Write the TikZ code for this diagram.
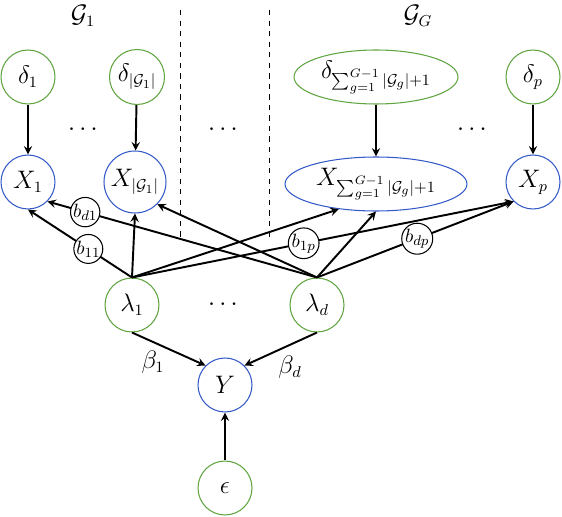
\documentclass[tikz,border=0pt]{standalone}
\usepackage{amsmath}
\usepackage{amssymb}
\usepackage{xcolor}
\usepackage{tikz}
\usetikzlibrary{arrows, positioning, shapes}

\definecolor{latgreen}{RGB}{96,164,64}
\definecolor{obsblue}{RGB}{52,90,200}

\begin{document}
\begin{tikzpicture}[x=0.02cm, y=-0.02cm, font=\fontsize{13.5}{16}\selectfont, >=stealth,
        latent/.style={draw=latgreen, semithick, circle, minimum size=1.08cm, inner sep=1pt},
        obs/.style={draw=obsblue, semithick, circle, minimum size=1.08cm, inner sep=1pt},
        coef/.style={draw, semithick, circle, minimum size=0.56cm, inner sep=0pt, font=\fontsize{11}{13}\selectfont, fill=white},
        edge/.style={->, line width=1.1pt}]
        \useasboundingbox (0,0) rectangle (562,517);

        % Groups
        \draw[dashed] (180,10) -- (180,240);
        \draw[dashed] (269,10) -- (269,240);
        \node (g1) [inner sep=0pt] at (83,16) {$\mathcal{G}_1$};
        \node (gG) [inner sep=0pt] at (418,16) {$\mathcal{G}_G$};

        % Components
        \node (d1) [latent] at (28,77) {$\delta_1$};
        \node (dg1) [latent, minimum size=1.1cm, inner sep=0pt] at (137,77) {$\delta_{|\mathcal{G}_1|}$};
        \node (dsum) [latent, ellipse, minimum width=3.28cm, minimum height=1.08cm, inner sep=0pt] at (376,77) {$\delta_{\sum_{g=1}^{G-1}|\mathcal{G}_g|+1}$};
        \node (dp) [latent] at (533,77) {$\delta_p$};

        \node (x1) [obs] at (28,182) {$X_1$};
        \node (xg1) [obs, minimum size=1.24cm, inner sep=0pt] at (135,182) {$X_{|\mathcal{G}_1|}$};
        \node (xsum) [obs, ellipse, minimum width=3.64cm, minimum height=1.08cm, inner sep=0pt] at (376,184) {$X_{\sum_{g=1}^{G-1}|\mathcal{G}_g|+1}$};
        \node (xp) [obs] at (533,182) {$X_p$};

        \node (l1) [latent] at (132,305) {$\lambda_1$};
        \node (ld) [latent] at (317,305) {$\lambda_d$};
        \node (y) [obs] at (225,385) {$Y$};
        \node (eps) [latent] at (225,488) {$\epsilon$};

        \node (dots1) at (85,130) {$\cdots$};
        \node (dots2) at (225,130) {$\cdots$};
        \node (dots3) at (474,130) {$\cdots$};
        \node (dots4) at (225,305) {$\cdots$};

        % Arrows
        \draw[edge] (d1) -- (x1);
        \draw[edge] (dg1) -- (xg1);
        \draw[edge] (dsum) -- (xsum);
        \draw[edge] (dp) -- (xp);

        \draw[edge] (l1.north) -- node[coef, pos=0.42] (b11) {$b_{11}$} (x1.south);
        \draw[edge] (l1.north) -- (xg1.south);
        \draw[edge] (l1.north) -- (xsum.214);
        \draw[edge] (l1.north) -- node[coef, pos=0.45] (b1p) {$b_{1p}$} (xp.south west);

        \draw[edge] (ld.north) -- node[coef, pos=0.86] (bd1) {$b_{d1}$} (x1.south east);
        \draw[edge] (ld.north) -- (xg1.south east);
        \draw[edge] (ld.north) -- (xsum.south);
        \draw[edge] (ld.north) -- node[coef, pos=0.51] (bdp) {$b_{dp}$} (xp.south west);

        \draw[edge] (l1.south) -- (y.north west);
        \draw[edge] (ld.south) -- (y.north east);
        \draw[edge] (eps) -- (y);
        \node (beta1) at (153,362) {$\beta_1$};
        \node (betad) at (290,367) {$\beta_d$};
    \end{tikzpicture}
\end{document}
